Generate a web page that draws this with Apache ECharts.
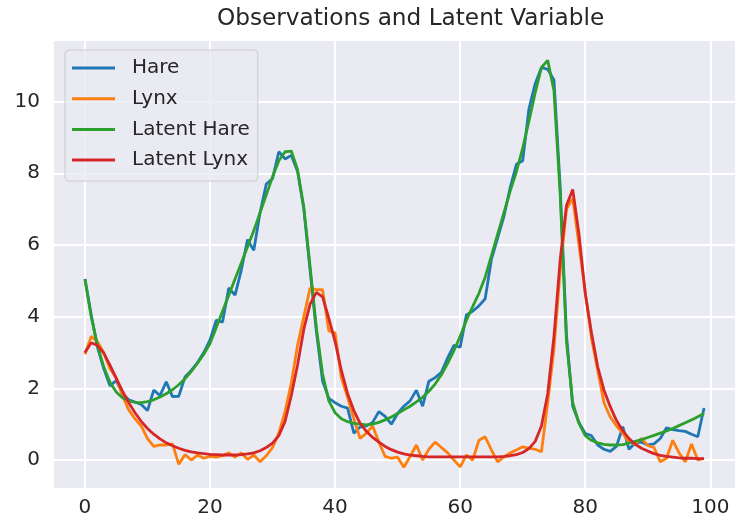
<!DOCTYPE html>
<html>
<head>
<meta charset="utf-8">
<script src="https://cdn.jsdelivr.net/npm/echarts@6/dist/echarts.min.js"></script>
<style>
html,body{margin:0;padding:0;background:#fff;}
#chart{width:735px;height:529px;}
</style>
</head>
<body>
<div id="chart"></div>
<script>
const titleText = 'Observations and Latent Variable';
const seriesNames = ['Hare', 'Lynx', 'Latent Hare', 'Latent Lynx'];
const xTicks = [0, 20, 40, 60, 80, 100];
const yTicks = [0, 2, 4, 6, 8, 10];

const hare = [5.05,4.05,3.15,2.55,2.07,2.22,1.85,1.68,1.62,1.55,
1.38,1.95,1.8,2.18,1.77,1.78,2.32,2.5,2.72,3.0,
3.35,3.9,3.85,4.8,4.6,5.3,6.15,5.85,6.9,7.7,
7.85,8.6,8.4,8.5,8.05,7.0,5.3,3.6,2.2,1.72,
1.6,1.5,1.45,0.75,0.92,0.95,1.05,1.35,1.22,1.0,
1.3,1.5,1.65,1.95,1.5,2.2,2.3,2.45,2.85,3.2,
3.15,4.05,4.15,4.3,4.5,5.6,6.2,6.8,7.6,8.25,
8.35,9.8,10.5,10.95,10.9,10.6,7.6,3.5,1.5,1.05,
0.74,0.68,0.42,0.3,0.24,0.38,0.93,0.3,0.48,0.5,
0.42,0.45,0.6,0.9,0.85,0.82,0.8,0.72,0.65,1.45];

const lynx = [2.95,3.45,3.3,3.0,2.55,2.3,1.8,1.4,1.15,0.95,
0.6,0.38,0.42,0.42,0.45,-0.12,0.15,0.0,0.14,0.05,
0.1,0.08,0.12,0.2,0.08,0.2,0.02,0.14,-0.05,0.12,
0.35,0.75,1.35,2.15,3.2,4.0,4.8,4.75,4.75,3.6,
3.55,2.3,1.75,1.15,0.6,0.75,0.95,0.5,0.1,0.05,
0.08,-0.2,0.1,0.42,0.0,0.3,0.5,0.35,0.2,0.0,
-0.19,0.14,0.0,0.55,0.65,0.28,-0.05,0.09,0.2,0.28,
0.37,0.33,0.3,0.23,1.6,3.1,5.3,7.0,7.3,6.0,
4.7,3.4,2.5,1.6,1.2,0.95,0.75,0.5,0.45,0.6,
0.4,0.35,-0.05,0.05,0.55,0.2,-0.05,0.45,0.0,0.05];

const latentHare = [5.05,4.0,3.2,2.6,2.17,1.9,1.74,1.65,1.61,1.6,
1.63,1.68,1.76,1.85,1.96,2.1,2.27,2.47,2.7,2.95,
3.25,3.7,4.15,4.6,5.05,5.5,5.95,6.4,6.9,7.4,
7.9,8.35,8.6,8.62,8.1,7.05,5.4,3.7,2.4,1.65,
1.32,1.15,1.07,1.02,1.0,0.98,1.0,1.05,1.12,1.2,
1.3,1.4,1.5,1.62,1.75,1.92,2.12,2.38,2.7,3.05,
3.45,3.9,4.28,4.65,5.1,5.7,6.3,6.9,7.5,8.05,
8.7,9.45,10.25,10.95,11.15,10.3,7.4,3.3,1.6,1.02,
0.68,0.55,0.48,0.44,0.42,0.42,0.43,0.47,0.52,0.57,
0.63,0.69,0.75,0.81,0.88,0.96,1.04,1.12,1.21,1.3];

const latentLynx = [3.0,3.27,3.2,2.98,2.65,2.28,1.92,1.6,1.32,1.08,
0.88,0.72,0.59,0.48,0.4,0.33,0.27,0.23,0.2,0.18,
0.16,0.15,0.14,0.14,0.14,0.15,0.17,0.2,0.26,0.35,
0.47,0.68,1.08,1.8,2.65,3.65,4.35,4.68,4.55,3.95,
3.3,2.5,1.85,1.38,1.02,0.8,0.63,0.5,0.38,0.29,
0.22,0.17,0.14,0.12,0.1,0.09,0.09,0.09,0.09,0.09,
0.09,0.09,0.09,0.09,0.09,0.09,0.09,0.1,0.12,0.15,
0.21,0.32,0.52,0.95,1.85,3.45,5.6,7.1,7.55,6.3,
4.65,3.55,2.6,1.95,1.49,1.1,0.82,0.6,0.44,0.33,
0.25,0.18,0.13,0.1,0.08,0.06,0.05,0.05,0.04,0.04];

const colors = ['#1f77b4', '#ff7f0e', '#2ca02c', '#d62728'];
const values = [hare, lynx, latentHare, latentLynx];
const font = 'DejaVu Sans';

const chart = echarts.init(document.getElementById('chart'), null, {renderer: 'canvas'});
chart.setOption({
  animation: false,
  backgroundColor: '#ffffff',
  title: {
    text: titleText,
    left: 212, top: 2,
    textStyle: {fontFamily: font, fontSize: 23.2, fontWeight: 'normal', color: '#262626'}
  },
  legend: {
    orient: 'vertical',
    left: 65, top: 50,
    padding: [8, 8, 11, 7],
    itemGap: 10.7,
    itemWidth: 43, itemHeight: 3,
    icon: 'rect',
    backgroundColor: 'rgba(234,234,242,0.8)',
    borderColor: '#cccccc', borderWidth: 1, borderRadius: 4,
    textStyle: {fontFamily: font, fontSize: 20, color: '#262626', padding: [0, 0, 0, 12]},
    data: seriesNames
  },
  grid: {left: 54, top: 41, width: 689, height: 447, backgroundColor: '#eaeaf2', show: true, borderWidth: 0},
  xAxis: {
    type: 'value', min: -4.95, max: 103.95,
    axisLine: {show: false},
    axisTick: {show: false, customValues: xTicks},
    axisLabel: {customValues: xTicks, fontFamily: font, fontSize: 20, color: '#262626', margin: 10},
    splitLine: {show: true, lineStyle: {color: '#ffffff', width: 2}}
  },
  yAxis: {
    type: 'value', min: -0.78, max: 11.69,
    axisLine: {show: false},
    axisTick: {show: false, customValues: yTicks},
    axisLabel: {customValues: yTicks, fontFamily: font, fontSize: 20, color: '#262626', margin: 14},
    splitLine: {show: true, lineStyle: {color: '#ffffff', width: 2}}
  },
  series: seriesNames.map((name, k) => ({
    name: name,
    type: 'line',
    showSymbol: false,
    symbol: 'none',
    color: colors[k],
    lineStyle: {width: 2.8, color: colors[k]},
    data: values[k].map((v, i) => [i, v])
  }))
});
</script>
</body>
</html>
